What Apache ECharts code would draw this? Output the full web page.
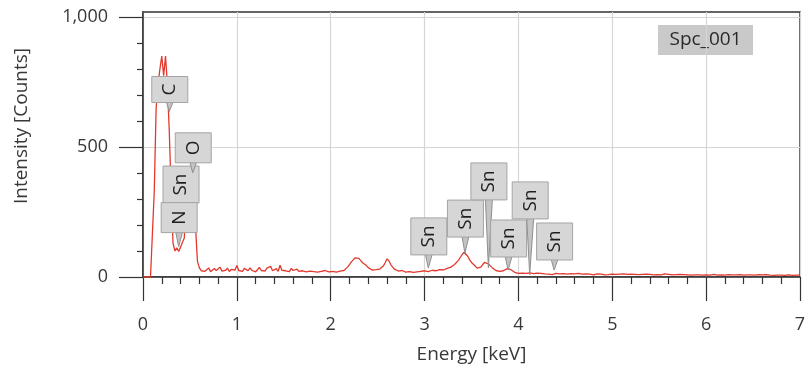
<!DOCTYPE html>
<html>
<head>
<meta charset="utf-8">
<script src="https://cdn.jsdelivr.net/npm/echarts@6/dist/echarts.min.js"></script>
<style>
  html, body { margin: 0; padding: 0; background: #fff; }
  #chart { width: 811px; height: 376px; }
</style>
</head>
<body>
<div id="chart"></div>
<script>
// EDS spectrum, one count value every 0.02 keV from 0 to 7 keV
const energyStep = 0.02;
const counts = [
  0, 0, 0, 0, 0, 0, 330, 650, 740, 800, 850, 775, 850, 740, 560, 330,
  130, 100, 112, 98, 115, 108, 150, 300, 385, 400, 390, 340, 190, 60, 36,
  // 0.62 - 1.00
  24, 31, 22, 28, 35, 20, 27, 33, 25, 29, 38, 23, 30, 26, 34, 21, 29, 36, 27, 44,
  // 1.02 - 1.40
  25, 30, 22, 33, 27, 24, 35, 26, 31, 20, 28, 37, 25, 30, 23, 34, 27, 41, 24, 29,
  // 1.42 - 1.80
  32, 22, 45, 26, 30, 24, 28, 21, 33, 25, 27, 30, 22, 26, 24, 29, 20, 25, 23, 27,
  // 1.82 - 2.14
  21, 24, 19, 26, 22, 18, 25, 23, 20, 27, 22, 24, 19, 26, 23, 28, 25,
  // 2.16 - 2.70
  30, 38, 48, 58, 66, 74, 80, 72, 63, 55, 48, 44, 36, 30, 27, 25, 28, 24, 30, 34,
  42, 55, 70, 62, 48, 38, 30, 26,
  // 2.72 - 3.20
  23, 20, 25, 22, 19, 24, 21, 26, 18, 23, 20, 25, 22, 19, 24, 27, 21, 23, 26, 20,
  24, 22, 28, 25, 27,
  // 3.22 - 4.00
  29, 33, 31, 38, 42, 48, 55, 64, 75, 86, 95, 92, 80, 66, 56, 50, 42, 34, 30, 38,
  48, 56, 58, 50, 44, 36, 30, 25, 23, 22, 25, 24, 28, 32, 33, 28, 22, 18, 17, 14,
  // 4.02 - 4.50
  13, 15, 11, 14, 12, 16, 10, 13, 12, 15, 11, 14, 10, 12, 16, 11, 13, 9, 12, 14,
  10, 12, 11, 13, 9,
  // 4.52 - 5.00
  11, 10, 13, 9, 12, 10, 14, 8, 11, 10, 12, 9, 11, 13, 8, 10, 12, 9, 11, 10,
  8, 12, 9, 10, 11,
  // 5.02 - 5.50
  9, 10, 8, 11, 9, 12, 8, 10, 9, 11, 8, 10, 12, 9, 8, 10, 9, 11, 8, 10,
  9, 8, 11, 9, 10,
  // 5.52 - 6.00
  8, 9, 12, 8, 10, 9, 8, 10, 9, 7, 10, 8, 9, 11, 8, 9, 7, 10, 8, 9,
  8, 10, 7, 9, 8,
  // 6.02 - 6.50
  9, 7, 8, 10, 8, 7, 9, 8, 10, 7, 8, 9, 7, 8, 10, 8, 7, 9, 8, 7,
  9, 8, 7, 8, 9,
  // 6.52 - 7.00
  7, 8, 9, 7, 8, 7, 9, 8, 7, 8, 6, 8, 7, 9, 7, 8, 6, 7, 8, 7,
  6, 8, 7, 6, 7
];

// peak markers (element, energy of the pointer tip, counts at the tip)
const peakNames = ['Sn', 'N', 'C', 'O', 'Sn', 'Sn', 'Sn', 'Sn', 'Sn', 'Sn'];
const peakEnergies = [0.40, 0.38, 0.28, 0.53, 3.04, 3.43, 3.68, 3.89, 4.12, 4.38];
const peakTipCounts = [173, 117, 637, 401, 35, 92, 35, 27, 8, 27];

const yLabelValues = [0, 500, 1000];
const spectrumName = 'Spc_001';

// layout of the marker boxes
const boxGaps = [29, 14, 9, 10, 13, 16, 68, 13, 56, 10];
const boxHeights = { C: 26, O: 30, N: 30, Sn: 37 };
const boxWidth = 36;

const font = '"Open Sans", "Noto Sans", sans-serif';
const textColor = '#383838';
const axisColor = '#333';

const spectrum = counts.map((c, i) => [Math.round(i * energyStep * 100) / 100, c]);
const markers = peakEnergies.map((e, i) => [e, peakTipCounts[i], i]);

const minorY = [];
for (let v = 100; v < 1000; v += 100) if (v !== 500) minorY.push(v);

const chart = echarts.init(document.getElementById('chart'));
chart.setOption({
  animation: false,
  backgroundColor: '#fff',
  grid: {
    left: 143, right: 11, top: 12, bottom: 99,
    show: true, borderColor: axisColor, borderWidth: 1.5
  },
  xAxis: {
    type: 'value',
    min: 0, max: 7, interval: 1,
    name: 'Energy [keV]',
    nameLocation: 'middle',
    nameGap: 68,
    nameTextStyle: { fontFamily: font, fontSize: 19, color: textColor },
    axisLine: { lineStyle: { color: axisColor, width: 1.5 } },
    axisTick: { length: 24, lineStyle: { color: axisColor, width: 1.2 } },
    minorTick: { show: true, splitNumber: 5, length: 7, lineStyle: { color: axisColor, width: 1.2 } },
    axisLabel: { margin: 39, fontFamily: font, fontSize: 18, color: textColor },
    splitLine: { show: true, lineStyle: { color: '#d6d6d6', width: 1.2 } }
  },
  yAxis: [
    {
      type: 'value',
      min: 0, max: 1020, interval: 500,
      axisLine: { show: true, lineStyle: { color: axisColor, width: 1.5 } },
      axisTick: { show: true, length: 24, customValues: yLabelValues, lineStyle: { color: axisColor, width: 1.2 } },
      axisLabel: {
        customValues: yLabelValues,
        margin: 35, fontFamily: font, fontSize: 18, color: textColor,
        formatter: v => v.toLocaleString('en-US')
      },
      splitLine: { show: true, lineStyle: { color: '#d6d6d6', width: 1.2 } }
    },
    {
      type: 'value',
      position: 'left',
      min: 0, max: 1020, interval: 100,
      axisLine: { show: false },
      axisTick: { show: true, length: 6, customValues: minorY, lineStyle: { color: axisColor, width: 1.2 } },
      axisLabel: { show: false },
      splitLine: { show: false }
    }
  ],
  graphic: [
    {
      type: 'text', x: 22, y: 126, rotation: Math.PI / 2,
      style: {
        text: 'Intensity [Counts]', font: '19px ' + font, fill: textColor,
        align: 'center', verticalAlign: 'middle'
      }
    },
    {
      type: 'group', left: 658, top: 25,
      children: [
        { type: 'rect', shape: { x: 0, y: 0, width: 95, height: 30 }, style: { fill: '#c9c9c9' } },
        {
          type: 'text', x: 47.5, y: 15,
          style: { text: spectrumName, font: '19px ' + font, fill: '#2a2a2a', align: 'center', verticalAlign: 'middle' }
        }
      ]
    }
  ],
  series: [
    {
      type: 'line',
      data: spectrum,
      showSymbol: false,
      lineStyle: { color: '#e3382e', width: 1.3 },
      z: 2
    },
    {
      type: 'custom',
      data: markers,
      z: 5,
      renderItem(params, api) {
        const i = api.value(2);
        const name = peakNames[i];
        const tip = api.coord([api.value(0), api.value(1)]);
        const h = boxHeights[name];
        const bottom = tip[1] - boxGaps[i];
        const top = bottom - h;
        const cx = tip[0] + 0.5;
        return {
          type: 'group',
          children: [
            {
              type: 'polygon',
              shape: { points: [[cx - 3.5, bottom - 1], [cx + 3.5, bottom - 1], [tip[0], tip[1]]] },
              style: { fill: '#c4c4c4', stroke: '#8f8f8f', lineWidth: 1 }
            },
            {
              type: 'rect',
              shape: { x: cx - boxWidth / 2, y: top, width: boxWidth, height: h },
              style: { fill: '#d6d6d6', stroke: '#a4a4a4', lineWidth: 1 }
            },
            {
              type: 'text', x: cx, y: top + h / 2, rotation: Math.PI / 2,
              style: {
                text: name, font: '19px ' + font, fill: '#1e1e1e',
                align: 'center', verticalAlign: 'middle'
              }
            }
          ]
        };
      }
    }
  ]
});
</script>
</body>
</html>
